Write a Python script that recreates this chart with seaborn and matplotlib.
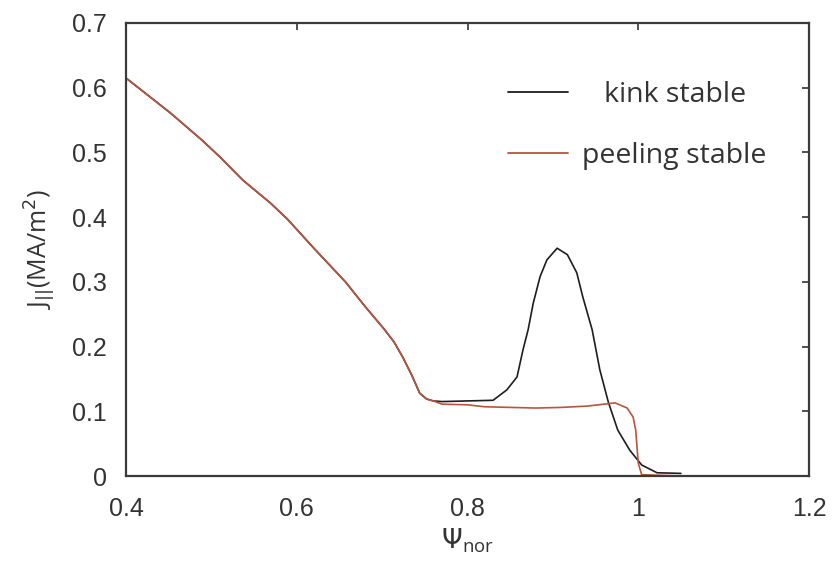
import numpy as np
import pandas as pd
import matplotlib
matplotlib.use("Agg")
import matplotlib.pyplot as plt
import seaborn as sns

# shared core profile (both cases coincide for psi < 0.76)
psi_core = [0.40, 0.452, 0.489, 0.510, 0.537, 0.569, 0.589, 0.62, 0.657, 0.68, 0.703,
            0.714, 0.724, 0.735, 0.744, 0.752, 0.76]
j_core = [0.615, 0.561, 0.519, 0.493, 0.457, 0.422, 0.397, 0.352, 0.300, 0.262, 0.226,
          0.207, 0.184, 0.155, 0.128, 0.119, 0.116]

# kink stable pedestal
psi_kink = [0.77, 0.80, 0.83, 0.846, 0.858, 0.865, 0.871, 0.877, 0.885, 0.893, 0.905,
            0.917, 0.928, 0.935, 0.946, 0.955, 0.965, 0.976, 0.990, 1.004, 1.022, 1.05]
j_kink = [0.115, 0.116, 0.117, 0.133, 0.153, 0.195, 0.226, 0.267, 0.308, 0.334, 0.352,
          0.342, 0.314, 0.277, 0.226, 0.164, 0.114, 0.071, 0.040, 0.017, 0.005, 0.004]

# peeling stable pedestal
psi_peel = [0.77, 0.80, 0.82, 0.85, 0.88, 0.91, 0.94, 0.96, 0.973, 0.987, 0.994, 0.997,
            1.000, 1.004, 1.05, 1.2]
j_peel = [0.111, 0.110, 0.107, 0.106, 0.105, 0.106, 0.108, 0.111, 0.113, 0.105, 0.091,
          0.071, 0.020, 0.002, 0.0, 0.0]

labels = ["kink stable", "peeling stable"]
colors = ["#1e1e1e", "#b8553f"]

x_ticks = [0.4, 0.6, 0.8, 1.0, 1.2]
x_tick_labels = ["0.4", "0.6", "0.8", "1", "1.2"]
y_ticks = [0, 0.1, 0.2, 0.3, 0.4, 0.5, 0.6, 0.7]
y_tick_labels = ["0", "0.1", "0.2", "0.3", "0.4", "0.5", "0.6", "0.7"]

df = pd.concat([
    pd.DataFrame({"psi": psi_core + psi_kink, "j": j_core + j_kink, "case": labels[0]}),
    pd.DataFrame({"psi": psi_core + psi_peel, "j": j_core + j_peel, "case": labels[1]}),
], ignore_index=True)

sns.set_style("white")
plt.rcParams["font.family"] = ["Liberation Sans", "DejaVu Sans"]

fig = plt.figure(figsize=(8.32, 5.72), dpi=100)
ax = fig.add_axes([126 / 832, 96 / 572, 683 / 832, 453 / 572])

sns.lineplot(data=df, x="psi", y="j", hue="case", hue_order=labels,
             palette=dict(zip(labels, colors)), sort=False, estimator=None,
             linewidth=1.2, ax=ax)

ax.set_xlim(0.4, 1.2)
ax.set_ylim(0, 0.7)
ax.set_xticks(x_ticks)
ax.set_xticklabels(x_tick_labels)
ax.set_yticks(y_ticks)
ax.set_yticklabels(y_tick_labels)
ax.tick_params(direction="in", length=5, width=1.2, colors="#333333",
               labelcolor="#333333", labelsize=18, top=True, right=True)
ax.tick_params(axis="y", pad=14)
ax.tick_params(axis="x", pad=15)
for s in ax.spines.values():
    s.set_color("#3a3a3a")
    s.set_linewidth(1.6)

ax.set_xlabel(r"$\Psi_{\mathregular{nor}}$", fontsize=19, color="#333333",
              family=["Open Sans", "DejaVu Sans"], labelpad=4)
ax.set_ylabel(r"J$_{||}$(MA/m$^2$)", fontsize=18, color="#333333",
              family=["Open Sans", "DejaVu Sans"], labelpad=10)

h, l = ax.get_legend_handles_labels()
leg = ax.legend(h, ["   kink stable", "peeling stable"], loc="upper left",
                bbox_to_anchor=(0.522, 0.928), frameon=False, handlelength=2.1,
                handletextpad=0.5, labelspacing=1.14,
                prop={"family": ["Open Sans", "DejaVu Sans"], "size": 20.5})
for t in leg.get_texts():
    t.set_color("#333333")
for line in leg.get_lines():
    line.set_linewidth(1.3)

fig.savefig("out.png", dpi=100, facecolor="white")
